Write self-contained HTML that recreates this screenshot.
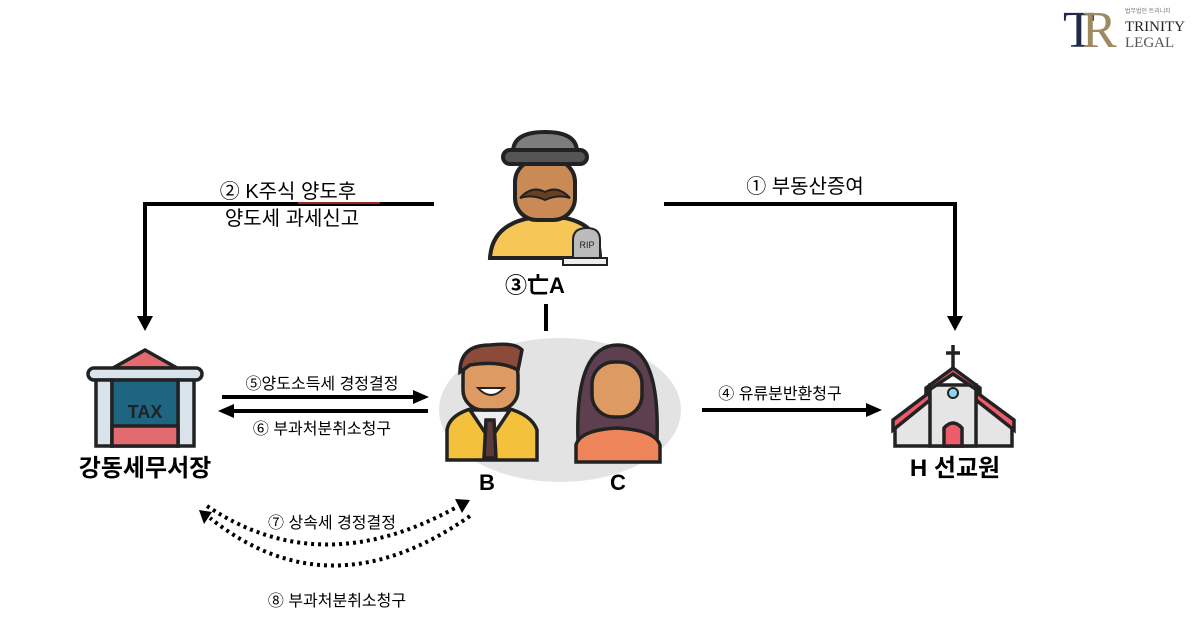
<!DOCTYPE html>
<html><head><meta charset="utf-8"><style>
html,body{margin:0;padding:0;background:#fff;}
svg{display:block;}
text{font-family:"Liberation Sans","Noto Sans CJK KR",sans-serif;}
.serif{font-family:"Liberation Serif",serif;}
</style></head><body>
<svg width="1200" height="641" viewBox="0 0 1200 641">
<defs>
<marker id="ah" markerWidth="16" markerHeight="16" refX="12" refY="8" orient="auto" markerUnits="userSpaceOnUse"><path d="M0,1 L16,8 L0,15 z" fill="#000"/></marker>
</defs>
<!-- logo -->
<text class="serif" x="1063" y="47" font-size="52" fill="#1e2a48">T</text>
<text class="serif" x="1082" y="47" font-size="52" fill="#a08a62">R</text>
<text x="1125" y="13" font-size="6" fill="#777">법무법인 트리니티</text>
<text class="serif" x="1125" y="31" font-size="15" fill="#222">TRINITY</text>
<text class="serif" x="1125" y="47" font-size="15" fill="#555">LEGAL</text>

<!-- top connectors -->
<polyline points="434,204 145,204 145,318" fill="none" stroke="#000" stroke-width="4"/>
<path d="M137,316 L153,316 L145,331 z" fill="#000"/>
<polyline points="664,204 955,204 955,318" fill="none" stroke="#000" stroke-width="4"/>
<path d="M947,316 L963,316 L955,331 z" fill="#000"/>
<text x="288" y="198" font-size="20" text-anchor="middle">② K주식 양도후</text>
<line x1="298" y1="203" x2="380" y2="203" stroke="#c33" stroke-width="1.5"/>
<text x="292" y="225" font-size="20" text-anchor="middle">양도세 과세신고</text>
<text x="805" y="193" font-size="20" text-anchor="middle">① 부동산증여</text>

<!-- A icon -->
<g stroke="#222" stroke-width="4">
<path d="M490,258 Q492,225 530,218 L565,218 Q600,225 600,258 z" fill="#f6c656"/>
<rect x="515" y="160" width="60" height="60" rx="22" fill="#c98a55"/>
<path d="M513,152 Q513,132 545,132 Q577,132 577,152 z" fill="#7d7d7d"/>
<rect x="503" y="150" width="84" height="14" rx="7" fill="#555"/>
<path d="M520,198 Q532,185 545,192 Q558,185 570,198 Q558,194 545,200 Q532,194 520,198 z" fill="#6a4024" stroke-width="2"/>
<path d="M573,262 L573,240 Q573,228 587,228 Q600,228 600,240 L600,262 z" fill="#bbb" stroke-width="2"/>
<rect x="563" y="258" width="44" height="7" fill="#eee" stroke-width="2"/>
</g>
<text x="587" y="248" font-size="9" text-anchor="middle" fill="#222">RIP</text>
<text x="535" y="293" font-size="22" font-weight="bold" text-anchor="middle">③亡A</text>
<line x1="546" y1="304" x2="546" y2="331" stroke="#000" stroke-width="4"/>

<!-- family ellipse -->
<ellipse cx="560" cy="410" rx="121" ry="72" fill="#e3e3e3"/>
<!-- B -->
<g stroke="#222" stroke-width="3.5">
<path d="M447,460 L447,430 Q450,410 490,405 Q530,410 537,430 L537,460 z" fill="#f3c13c"/>
<path d="M470,410 L490,440 L510,410 z" fill="#eee"/>
<path d="M486,420 L494,420 L496,458 L484,458 z" fill="#5a3a3a"/>
<rect x="463" y="355" width="55" height="55" rx="20" fill="#dd9a62"/>
<path d="M460,372 Q460,345 490,345 Q515,342 522,350 L518,370 Q500,360 470,365 z" fill="#8b4a3a"/>
</g>
<path d="M478,388 Q491,402 504,388 z" fill="#fff" stroke="#222" stroke-width="2"/>
<!-- C -->
<g stroke="#222" stroke-width="3.5">
<path d="M578,440 Q575,345 618,345 Q660,345 657,440 z" fill="#5e3f4f"/>
<path d="M576,462 L576,445 Q580,430 617,428 Q655,430 660,445 L660,462 z" fill="#ee855a"/>
<rect x="592" y="362" width="50" height="55" rx="22" fill="#dd9a62"/>
</g>
<text x="487" y="490" font-size="22" font-weight="bold" text-anchor="middle">B</text>
<text x="618" y="490" font-size="22" font-weight="bold" text-anchor="middle">C</text>

<!-- tax office -->
<g stroke="#222" stroke-width="3.5">
<path d="M113,368 L145,350 L177,368 z" fill="#e36b6f"/>
<rect x="88" y="368" width="114" height="12" rx="6" fill="#d8e3ec"/>
<rect x="96" y="380" width="16" height="66" fill="#d8e3ec"/>
<rect x="178" y="380" width="16" height="66" fill="#d8e3ec"/>
<rect x="112" y="380" width="66" height="66" fill="#1e6582"/>
<rect x="112" y="426" width="66" height="20" fill="#e36b6f"/>
</g>
<text x="145" y="418" font-size="18" font-weight="bold" text-anchor="middle" fill="#222">TAX</text>
<text x="145" y="476" font-size="24" font-weight="bold" text-anchor="middle">강동세무서장</text>

<!-- arrows 5/6 -->
<line x1="222" y1="397" x2="425" y2="397" stroke="#000" stroke-width="4" marker-end="url(#ah)"/>
<line x1="428" y1="411" x2="222" y2="411" stroke="#000" stroke-width="4" marker-end="url(#ah)"/>
<text x="322" y="389" font-size="16" text-anchor="middle">⑤양도소득세 경정결정</text>
<text x="322" y="434" font-size="16" text-anchor="middle">⑥ 부과처분취소청구</text>

<!-- arrow 4 -->
<line x1="702" y1="410" x2="878" y2="410" stroke="#000" stroke-width="4" marker-end="url(#ah)"/>
<text x="780" y="399" font-size="16" text-anchor="middle">④ 유류분반환청구</text>

<!-- church -->
<g stroke="#222" stroke-width="3.5">
<line x1="953" y1="345" x2="953" y2="368"/><line x1="946" y1="353" x2="960" y2="353"/>
<path d="M895,425 L930,395 L976,395 L1012,425 L1012,446 L895,446 z" fill="#e5e5e5"/>
<path d="M893,430 L930,400 L930,392 L893,420 z" fill="#ef5b6a"/>
<path d="M1014,430 L976,400 L976,392 L1014,420 z" fill="#ef5b6a"/>
<rect x="930" y="385" width="46" height="61" fill="#e5e5e5"/>
<path d="M926,388 L953,368 L980,388 L980,392 L953,374 L926,392 z" fill="#ef5b6a"/>
<path d="M944,446 L944,428 Q953,418 962,428 L962,446 z" fill="#ef5b6a"/>
</g>
<circle cx="953" cy="393" r="5" fill="#8fd3ef" stroke="#222" stroke-width="2"/>
<text x="955" y="476" font-size="24" font-weight="bold" text-anchor="middle">H 선교원</text>

<!-- dotted curves -->
<path d="M207,506 Q320,582 455,508" fill="none" stroke="#000" stroke-width="4" stroke-dasharray="3,4"/>
<path d="M455,499 L470,500 L462,513 z" fill="#000"/>
<path d="M470,516 Q330,614 210,518" fill="none" stroke="#000" stroke-width="4" stroke-dasharray="3,4"/>
<path d="M199,510 L212,512 L204,524 z" fill="#000"/>
<text x="332" y="528" font-size="16" text-anchor="middle">⑦ 상속세 경정결정</text>
<text x="337" y="606" font-size="16" text-anchor="middle">⑧ 부과처분취소청구</text>
</svg>
</body></html>
